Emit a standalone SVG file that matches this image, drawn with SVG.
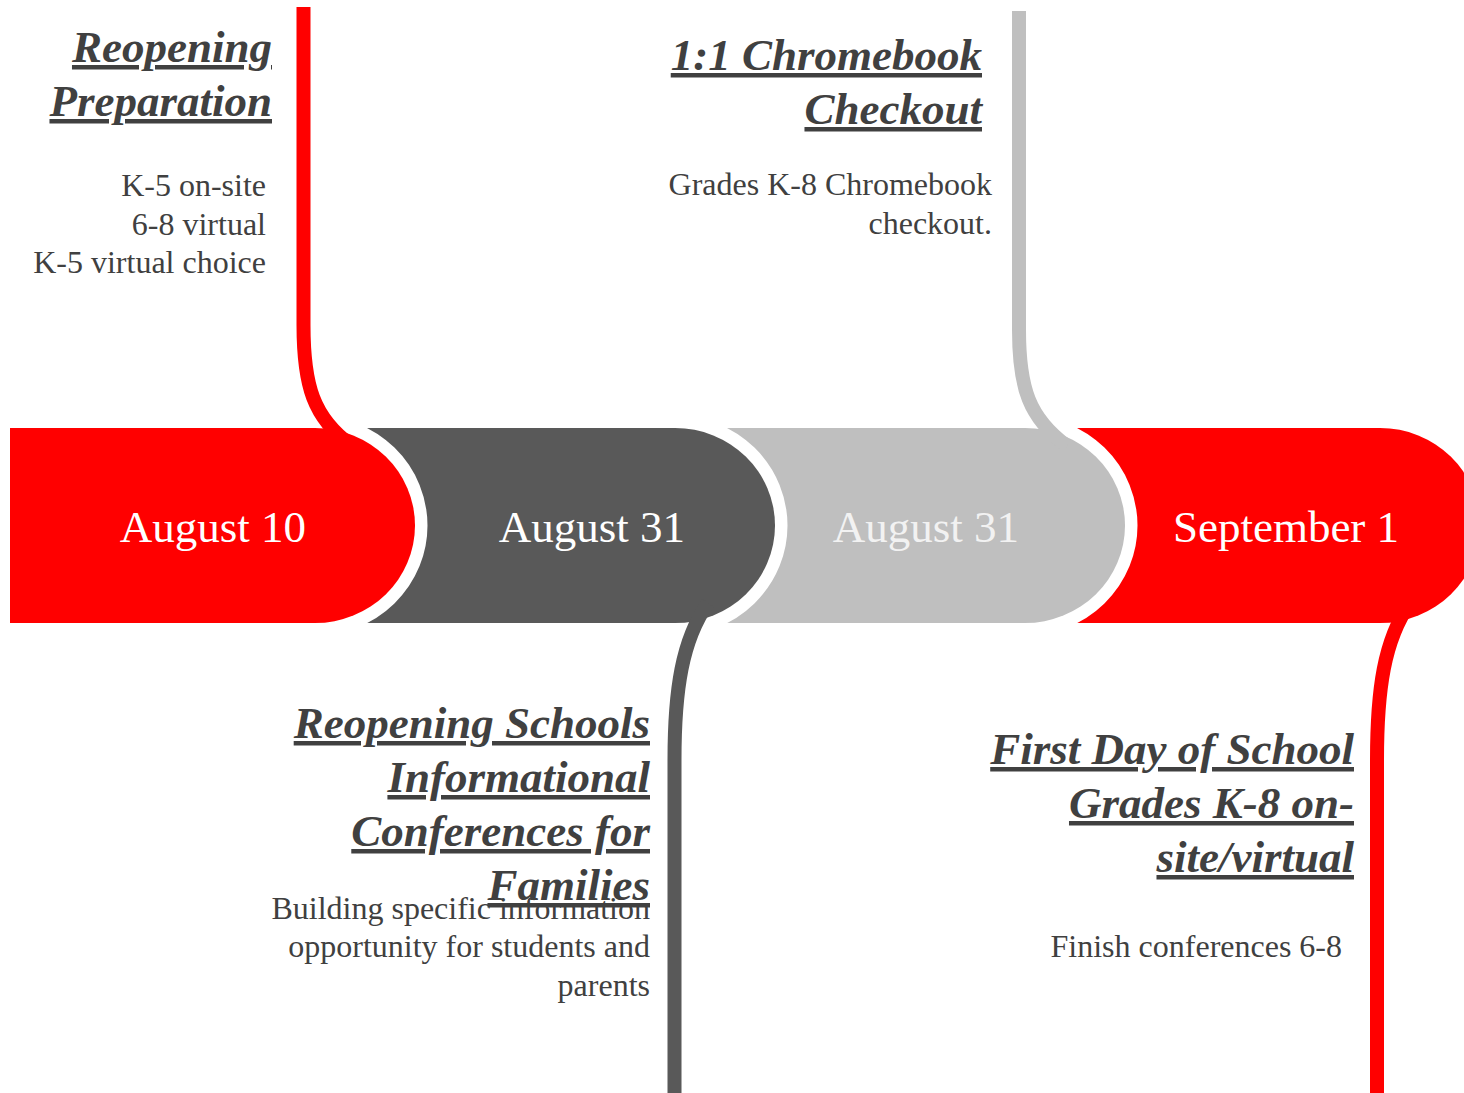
<svg xmlns="http://www.w3.org/2000/svg" width="1464" height="1093" viewBox="0 0 1464 1093">
<style>
.seg{stroke:#fff;stroke-width:25;paint-order:stroke;stroke-linejoin:round}
.date{font-family:"Liberation Serif",serif;font-size:45px;fill:#fff;text-anchor:middle}
.title{font-family:"Liberation Serif",serif;font-size:45px;font-weight:bold;font-style:italic;fill:#404040;text-anchor:end;text-decoration:underline;text-decoration-thickness:3px}
.body{font-family:"Liberation Serif",serif;font-size:32px;fill:#404040;text-anchor:end}
.con{fill:none;stroke-width:14;stroke-linecap:butt}
</style>
<rect width="1464" height="1093" fill="#fff"/>
<g id="seg-sep1">
<path class="seg" d="M1040,428 H1380 A100,97.5 0 0 1 1380,623 H1040 Z" fill="#ff0000"/>
<text class="date" x="1286" y="542">September 1</text>
</g>
<g id="seg-aug31b">
<path class="seg" d="M700,428 H1025 A100,97.5 0 0 1 1025,623 H700 Z" fill="#bfbfbf"/>
<text class="date" x="926" y="542" style="fill:#f2f2f2">August 31</text>
</g>
<g id="seg-aug31a">
<path class="seg" d="M330,428 H675 A100,97.5 0 0 1 675,623 H330 Z" fill="#595959"/>
<text class="date" x="592" y="542">August 31</text>
</g>
<g id="seg-aug10">
<path class="seg" d="M10,428 H315 A100,97.5 0 0 1 315,623 H10 Z" fill="#ff0000"/>
<text class="date" x="213" y="542">August 10</text>
</g>
<g id="connectors">
<path class="con" stroke="#ff0000" d="M303.5,7 V325 C303.5,385 313,418 352,446"/>
<path class="con" stroke="#bfbfbf" d="M1019,11 V330 C1019,388 1029,418 1067,446"/>
<path class="con" stroke="#595959" d="M674.5,1093 V760 C674.5,690 682,640 708,603"/>
<path class="con" stroke="#ff0000" d="M1377,1093 V760 C1377,690 1384,640 1410,603"/>
</g>
<g id="event-reopening-prep">
<text class="title" x="272" y="62">Reopening</text>
<text class="title" x="272" y="116">Preparation</text>
<text class="body" x="266" y="196">K-5 on-site</text>
<text class="body" x="266" y="235">6-8 virtual</text>
<text class="body" x="266" y="273">K-5 virtual choice</text>
</g>
<g id="event-chromebook">
<text class="title" x="982" y="70">1:1 Chromebook</text>
<text class="title" x="982" y="124">Checkout</text>
<text class="body" x="992" y="195">Grades K-8 Chromebook</text>
<text class="body" x="992" y="234">checkout.</text>
</g>
<g id="event-conferences">
<text class="body" x="650" y="919">Building specific information</text>
<text class="body" x="650" y="957">opportunity for students and</text>
<text class="body" x="650" y="996">parents</text>
<text class="title" x="650" y="738">Reopening Schools</text>
<text class="title" x="650" y="792">Informational</text>
<text class="title" x="650" y="846">Conferences for</text>
<text class="title" x="650" y="900">Families</text>
</g>
<g id="event-first-day">
<text class="title" x="1354" y="764">First Day of School</text>
<text class="title" x="1354" y="818">Grades K-8 on-</text>
<text class="title" x="1354" y="872">site/virtual</text>
<text class="body" x="1342" y="957">Finish conferences 6-8</text>
</g>
</svg>
